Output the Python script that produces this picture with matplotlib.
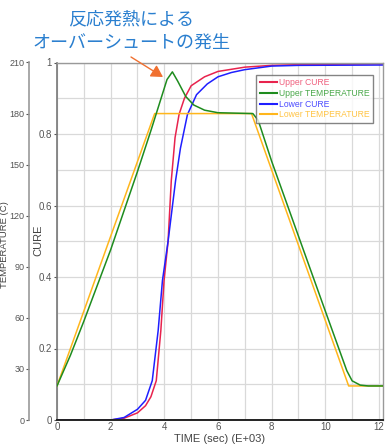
import matplotlib
matplotlib.use("Agg")
import matplotlib.pyplot as plt
from matplotlib.ticker import MultipleLocator
from matplotlib.lines import Line2D

plt.rcParams["font.family"] = ["Liberation Sans Narrow", "Liberation Sans", "DejaVu Sans"]

# ---- data (time in 1000 s) ----
upper_cure_t = [0, 2.0, 2.5, 3.0, 3.3, 3.5, 3.7, 3.87, 3.99, 4.14, 4.26, 4.4, 4.55, 4.75, 5.0, 5.5, 6.0, 7.0, 8.0, 9.0, 10.0, 12.15]
upper_cure_v = [0, 0, 0.005, 0.02, 0.04, 0.065, 0.11, 0.25, 0.39, 0.5, 0.67, 0.79, 0.855, 0.9, 0.935, 0.96, 0.975, 0.987, 0.992, 0.994, 0.995, 0.996]

lower_cure_t = [0, 2.0, 2.5, 3.0, 3.3, 3.55, 3.77, 3.93, 4.14, 4.42, 4.6, 4.86, 5.2, 5.6, 6.0, 6.5, 7.0, 8.0, 9.0, 12.15]
lower_cure_v = [0, 0, 0.007, 0.03, 0.055, 0.11, 0.25, 0.39, 0.5, 0.67, 0.76, 0.854, 0.91, 0.94, 0.96, 0.972, 0.98, 0.99, 0.992, 0.993]

upper_temp_t = [0, 0.5, 1.0, 2.0, 3.0, 3.5, 3.8, 4.1, 4.3, 4.5, 4.8, 5.1, 5.5, 6.0, 7.3, 7.5, 8.0, 9.0, 10.0, 10.8, 11.0, 11.3, 11.6, 12.15]
upper_temp_v = [20, 38, 58, 100, 146, 170, 185, 200, 204.5, 199, 190, 185, 182, 180.5, 180, 176, 152, 108, 64, 29, 23, 20.5, 20, 20]

lower_temp_t = [0, 3.64, 7.25, 10.87, 12.15]
lower_temp_v = [20, 180, 180, 20, 20]

x_ticks = [0, 2, 4, 6, 8, 10, 12]
cure_ticks = [0, 0.2, 0.4, 0.6, 0.8, 1]
cure_labels = ["0", "0.2", "0.4", "0.6", "0.8", "1"]
temp_ticks = [0, 30, 60, 90, 120, 150, 180, 210]

series_names = ["Upper CURE", "Upper TEMPERATURE", "Lower CURE", "Lower TEMPERATURE"]
line_colors = ["#e8234d", "#1e8c1e", "#1f1fff", "#ffb61c"]
text_colors = ["#f0607e", "#4aa84a", "#4a4aff", "#ffc444"]

W, H = 390, 446
fig = plt.figure(figsize=(W / 100, H / 100), dpi=100)
fig.patch.set_facecolor("white")

L, R, T, B = 57, 383, 62.5, 420
ax = fig.add_axes([L / W, (H - B) / H, (R - L) / W, (B - T) / H])
ax.set_xlim(0, 12.15)
ax.set_ylim(0, 1)

ax.set_xticks(x_ticks)
ax.set_xticklabels([str(v) for v in x_ticks])
ax.xaxis.set_minor_locator(MultipleLocator(1))
ax.set_yticks(cure_ticks)
ax.set_yticklabels(cure_labels)
ax.yaxis.set_minor_locator(MultipleLocator(0.1))
ax.grid(True, which="both", color="#d9d9d9", linewidth=0.9)
ax.set_axisbelow(True)
ax.tick_params(axis="x", which="both", length=0, labelsize=7, colors="#555555", pad=1.5)
ax.tick_params(axis="y", which="major", length=2.5, labelsize=7, colors="#555555", pad=1)
ax.tick_params(axis="y", which="minor", length=0)
for s in ["top", "right"]:
    ax.spines[s].set_color("#999999")
    ax.spines[s].set_linewidth(1.0)
ax.spines["left"].set_color("#777777")
ax.spines["left"].set_linewidth(1.2)
ax.spines["bottom"].set_color("#222222")
ax.spines["bottom"].set_linewidth(1.4)
ax.set_xlabel("TIME (sec) (E+03)", fontsize=8, color="#444444", labelpad=1.5)
fig.text(38.5 / W, 1 - 240 / H, "CURE", fontsize=8, color="#444444",
         rotation=90, ha="center", va="center")

ax2 = ax.twinx()
ax2.set_ylim(0, 210)
ax2.set_yticks(temp_ticks)
ax2.yaxis.set_ticks_position("left")
ax2.spines["left"].set_position(("outward", 20))
ax2.spines["left"].set_visible(True)
ax2.spines["left"].set_color("#999999")
ax2.spines["left"].set_linewidth(1.2)
for s in ["top", "right", "bottom"]:
    ax2.spines[s].set_visible(False)
ax2.tick_params(axis="y", length=2.5, labelsize=6.5, colors="#555555", pad=0.8)
fig.text(4.5 / W, 1 - 245 / H, "TEMPERATURE (C)", fontsize=6.8, color="#444444",
         rotation=90, ha="center", va="center")

ax.plot(upper_cure_t, upper_cure_v, color=line_colors[0], lw=1.1)
ax.plot(lower_cure_t, lower_cure_v, color=line_colors[2], lw=1.1)
ax2.plot(lower_temp_t, lower_temp_v, color=line_colors[3], lw=1.1)
ax2.plot(upper_temp_t, upper_temp_v, color=line_colors[1], lw=1.1)

handles = [Line2D([], [], color=c, lw=1.5) for c in line_colors]
leg = ax2.legend(handles, series_names, loc="upper right", bbox_to_anchor=(0.97, 0.965),
                 fontsize=6.2, frameon=True, fancybox=False, handlelength=2.0,
                 handletextpad=0.25, borderpad=0.4, labelspacing=0.18, borderaxespad=0)
leg.get_frame().set_edgecolor("#666666")
leg.get_frame().set_linewidth(1.0)
for txt, c in zip(leg.get_texts(), text_colors):
    txt.set_color(c)

jp = ["Noto Sans CJK JP", "DejaVu Sans"]
fig.text(131 / W, 1 - 19 / H, "反応発熱による", family=jp, fontsize=13,
         color="#2a7fcf", ha="center", va="center")
fig.text(131 / W, 1 - 43 / H, "オーバーシュートの発生", family=jp, fontsize=13,
         color="#2a7fcf", ha="center", va="center")
fig.add_artist(matplotlib.patches.FancyArrowPatch(
    (131 / W, 1 - 57 / H), (163 / W, 1 - 77 / H), transform=fig.transFigure,
    arrowstyle="-|>,head_length=7,head_width=4", color="#f07030", lw=1.0,
    shrinkA=0, shrinkB=0))

fig.savefig("out.png", dpi=100)
